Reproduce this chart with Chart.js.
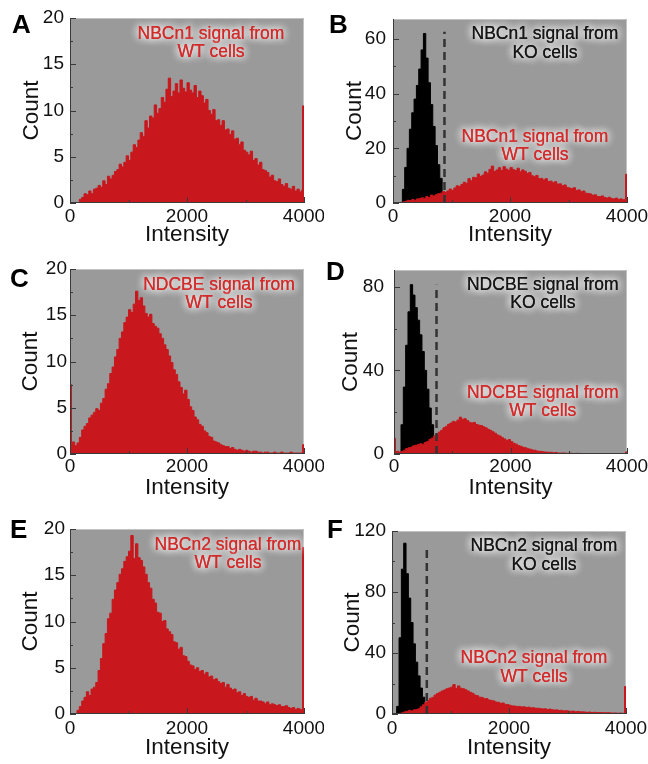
<!DOCTYPE html>
<html>
<head>
<meta charset="utf-8">
<title>Histogramas NBCn1 / NDCBE / NBCn2</title>
<script src="https://cdn.jsdelivr.net/npm/chart.js@4.4.1/dist/chart.umd.min.js"></script>
<style>
  body { margin: 0; background: #fff; }
  #figura { position: relative; width: 648px; height: 764px; overflow: hidden; }
  #figura canvas { position: absolute; }
</style>
</head>
<body>
<div id="figura">
  <canvas id="cA" width="324" height="255" style="left:0;top:0"></canvas>
  <canvas id="cB" width="324" height="255" style="left:324px;top:0"></canvas>
  <canvas id="cC" width="324" height="255" style="left:0;top:255px"></canvas>
  <canvas id="cD" width="324" height="255" style="left:324px;top:255px"></canvas>
  <canvas id="cE" width="324" height="254" style="left:0;top:510px"></canvas>
  <canvas id="cF" width="324" height="254" style="left:324px;top:510px"></canvas>
</div>
<script>
// Largura de cada classe do histograma (intensidade)
const BIN = 40;
// largura das barrinhas de under/overflow nas bordas
const EDGE = 25;

// Ticks dos eixos
const xTicks = [0, 2000, 4000];
const yTicks20 = [0, 5, 10, 15, 20];
const yTicksB = [0, 20, 40, 60];
const yTicksD = [0, 40, 80];
const yTicksF = [0, 40, 80, 120];

// Contagens das células WT (classes de 40 a partir de 0)
const wtNBCn1 = [0, 0, 0, 0, 0.4, 0.6, 1.0, 0.9, 1.3, 1.0,
  1.5, 1.6, 1.9, 1.7, 2.4, 2.0, 2.9, 2.6, 3.0, 3.4,
  3.6, 4.2, 3.9, 4.4, 5.1, 4.6, 5.5, 6.3, 6.0, 6.8,
  7.6, 7.2, 8.9, 8.1, 9.4, 9.2, 10.6, 9.7, 10.2, 11.4,
  10.9, 12.3, 13.5, 11.5, 12.1, 12.9, 11.9, 13.3, 12.4, 12.0,
  13.0, 12.2, 11.9, 12.7, 11.4, 12.1, 11.6, 10.8, 11.2, 10.0,
  9.6, 10.1, 8.9, 9.0, 8.4, 8.9, 7.9, 8.0, 7.4, 7.8,
  6.9, 7.0, 6.3, 6.6, 5.7, 5.5, 5.2, 5.6, 4.6, 4.8,
  4.1, 4.4, 3.6, 3.5, 3.3, 2.8, 3.0, 2.4, 2.3, 2.6,
  2.0, 1.8, 2.1, 1.6, 1.5, 1.8, 1.3, 1.5, 1.2, 1.4];
const wtNBCn1Alto = 10.5;

const wtNDCBE = [1.0, 1.3, 0.9, 1.2, 1.8, 2.6, 3.0, 3.3, 3.9, 4.2,
  4.5, 4.9, 4.7, 5.5, 6.0, 7.0, 7.6, 8.7, 9.4, 10.5,
  11.3, 12.5, 13.2, 14.2, 14.8, 15.6, 15.3, 16.2, 17.6, 16.6,
  16.9, 16.0, 15.2, 14.8, 15.1, 14.1, 13.8, 13.6, 13.0, 12.5,
  11.8, 11.3, 10.6, 9.9, 9.1, 8.6, 7.8, 7.2, 6.5, 6.9,
  5.9, 5.1, 4.7, 4.0, 3.7, 3.2, 3.0, 2.5, 2.3, 1.9,
  1.8, 1.4, 1.3, 1.2, 1.0, 0.9, 0.8, 0.8, 0.6, 0.7,
  0.5, 0.4, 0.5, 0.4, 0.3, 0.4, 0.3, 0.2, 0.3, 0.3,
  0.2, 0.2, 0.1, 0.2, 0.2, 0.1, 0.1, 0.2, 0.1, 0.1,
  0.2, 0.1, 0.1, 0.1, 0.2, 0.1, 0.1, 0.1, 0.1, 0.1];
const wtNDCBEBaixo = 7.5;
const wtNDCBEAlto = 1.0;

const wtNBCn2 = [0, 0, 0, 0.4, 0.8, 1.4, 1.8, 2.4, 2.0, 2.7,
  2.9, 3.4, 4.7, 6.0, 7.6, 8.7, 10.3, 10.9, 12.4, 13.4,
  14.2, 15.1, 15.7, 16.5, 17.0, 17.6, 19.3, 16.8, 18.4, 16.9,
  16.6, 15.9, 15.1, 14.2, 13.6, 12.4, 12.0, 11.0, 10.9, 10.0,
  10.1, 9.2, 8.9, 8.6, 7.8, 7.7, 7.0, 7.2, 6.3, 6.2,
  5.7, 5.3, 5.2, 4.8, 5.0, 4.6, 4.7, 4.3, 4.5, 4.0,
  4.1, 3.7, 3.8, 3.5, 3.3, 3.4, 2.9, 3.2, 2.8, 2.6,
  2.7, 2.3, 2.4, 2.0, 2.2, 1.9, 1.8, 1.9, 1.5, 1.7,
  1.4, 1.4, 1.3, 1.1, 1.3, 1.0, 1.1, 1.0, 0.9, 1.0,
  0.8, 0.8, 0.9, 0.7, 0.6, 0.7, 0.5, 0.6, 0.5, 0.4];
const wtNBCn2Alto = 18;

// Contagens das células KO
const koNBCn1 = [0, 0, 0, 0, 5, 13, 20, 27, 33, 38, 43, 49, 56, 62, 53, 44, 36, 28, 21, 14, 9, 4, 1, 0];
const koNDCBE = [0, 0, 0, 14, 32, 52, 68, 81, 76, 70, 64, 57, 49, 40, 31, 22, 14, 8, 3, 0];
const koNBCn2 = [0, 0, 5, 50, 95, 112, 92, 76, 60, 46, 34, 25, 17, 11, 5, 0];

// Linha tracejada de corte (intensidade, altura)
const corteNBCn1 = [880, 62.6];
const corteNDCBE = [730, 81];
const corteNBCn2 = [595, 110];

const VERMELHO = '#c8171d';
const CINZA = '#9a9a9a';
const fonte = '"Liberation Sans", Arial, Helvetica, sans-serif';

// Monta os pontos do histograma em degraus (borda esquerda de cada classe)
function pontosHist(contagens, baixo, alto) {
  var pts = [];
  if (baixo) {
    pts.push({x: 0, y: baixo});
    pts.push({x: EDGE, y: contagens[0]});
  } else {
    pts.push({x: 0, y: contagens[0]});
  }
  for (var i = 1; i < contagens.length; i++) {
    pts.push({x: i * BIN, y: contagens[i]});
  }
  var fim = contagens.length * BIN;
  if (alto) {
    pts.push({x: fim - EDGE, y: alto});
    pts.push({x: fim, y: alto});
  } else {
    pts.push({x: fim, y: contagens[contagens.length - 1]});
  }
  return pts;
}

// Fundo cinza, moldura, ticks para dentro, textos e a letra do painel
function pluginFigura(p) {
  return {
    id: 'figura' + p.letra,
    beforeDatasetsDraw(chart) {
      const a = chart.chartArea, ctx = chart.ctx;
      ctx.save();
      ctx.fillStyle = CINZA;
      ctx.fillRect(a.left, a.top, a.right - a.left, a.bottom - a.top);
      ctx.lineWidth = 1;
      ctx.strokeStyle = '#c2c2c2';
      ctx.beginPath();
      ctx.moveTo(a.left, a.top + 0.5);
      ctx.lineTo(a.right - 0.5, a.top + 0.5);
      ctx.lineTo(a.right - 0.5, a.bottom);
      ctx.stroke();
      ctx.restore();
    },
    afterDraw(chart) {
      const a = chart.chartArea, ctx = chart.ctx;
      const sx = chart.scales.x, sy = chart.scales.y;
      ctx.save();
      ctx.lineWidth = 1;
      ctx.strokeStyle = '#3a3a3a';
      ctx.beginPath();
      ctx.moveTo(a.left + 0.5, a.top);
      ctx.lineTo(a.left + 0.5, a.bottom - 0.5);
      ctx.lineTo(a.right, a.bottom - 0.5);

      // ticks do eixo y (principais e intermediários)
      for (var i = 0; i < p.yTicks.length; i++) {
        var yy = Math.round(sy.getPixelForValue(p.yTicks[i])) + 0.5;
        ctx.moveTo(a.left, yy); ctx.lineTo(a.left + 6, yy);
        if (i > 0) {
          var ym = Math.round(sy.getPixelForValue((p.yTicks[i] + p.yTicks[i - 1]) / 2)) + 0.5;
          ctx.moveTo(a.left, ym); ctx.lineTo(a.left + 3, ym);
        }
      }
      for (var j = 0; j < xTicks.length; j++) {
        var xx = Math.round(sx.getPixelForValue(xTicks[j])) + 0.5;
        ctx.moveTo(xx, a.bottom); ctx.lineTo(xx, a.bottom - 6);
        if (j > 0) {
          var xm = Math.round(sx.getPixelForValue((xTicks[j] + xTicks[j - 1]) / 2)) + 0.5;
          ctx.moveTo(xm, a.bottom); ctx.lineTo(xm, a.bottom - 3);
        }
      }
      ctx.stroke();

      // textos com brilho branco
      ctx.font = '17.5px ' + fonte;
      ctx.textAlign = 'center';
      ctx.textBaseline = 'middle';
      p.textos.forEach(function (t) {
        var tx = sx.getPixelForValue(t.x), ty = sy.getPixelForValue(t.y);
        ctx.shadowColor = 'rgba(255,255,255,0.95)';
        ctx.shadowBlur = 8;
        ctx.fillStyle = t.cor;
        ctx.fillText(t.texto, tx, ty);
        ctx.fillText(t.texto, tx, ty);
        ctx.fillText(t.texto, tx, ty);
      });

      ctx.shadowBlur = 0;
      ctx.font = 'bold 26px ' + fonte;
      ctx.textAlign = 'left';
      ctx.textBaseline = 'alphabetic';
      ctx.fillStyle = '#000';
      ctx.fillText(p.letra, p.letraPos[0], p.letraPos[1]);
      ctx.restore();
    }
  };
}

function criarPainel(p) {
  var datasets = [];
  if (p.corte) {
    datasets.push({
      data: [{x: p.corte[0], y: 0}, {x: p.corte[0], y: p.corte[1]}],
      borderColor: '#333', borderWidth: 2.5, borderDash: [8, 5],
      pointRadius: 0, fill: false, order: 0
    });
  }
  datasets.push({
    data: pontosHist(p.wt, p.wtBaixo, p.wtAlto),
    borderColor: VERMELHO, backgroundColor: VERMELHO, borderWidth: 1,
    pointRadius: 0, fill: 'origin', stepped: true, order: 1
  });
  if (p.ko) {
    datasets.push({
      data: pontosHist(p.ko),
      borderColor: '#000', backgroundColor: '#000', borderWidth: 1,
      pointRadius: 0, fill: 'origin', stepped: true, order: 2
    });
  }

  new Chart(document.getElementById(p.id), {
    type: 'line',
    data: { datasets: datasets },
    options: {
      responsive: false,
      animation: false,
      devicePixelRatio: 1,
      events: [],
      layout: { padding: { left: 0, top: p.area[2], right: 324 - p.area[1], bottom: 0 } },
      plugins: { legend: { display: false }, tooltip: { enabled: false } },
      scales: {
        x: {
          type: 'linear', min: 0, max: 4000,
          grid: { display: false, drawTicks: false },
          border: { display: false },
          afterBuildTicks: function (s) { s.ticks = xTicks.map(function (v) { return {value: v}; }); },
          afterFit: function (s) { s.height = p.altura - p.area[3]; s.paddingLeft = 0; s.paddingRight = 0; },
          ticks: {
            color: '#111', font: { family: fonte, size: 19 }, padding: p.xPad,
            maxRotation: 0, autoSkip: false,
            callback: function (v) { return String(v); }
          },
          title: { display: true, text: 'Intensity', color: '#111', font: { family: fonte, size: 22.5 }, padding: { top: 0, bottom: p.xTitPad } }
        },
        y: {
          type: 'linear', min: 0, max: p.yMax,
          grid: { display: false, drawTicks: false },
          border: { display: false },
          afterBuildTicks: function (s) { s.ticks = p.yTicks.map(function (v) { return {value: v}; }); },
          afterFit: function (s) { s.width = p.area[0]; s.paddingTop = 0; s.paddingBottom = 0; },
          ticks: {
            color: '#111', font: { family: fonte, size: 19 }, padding: p.yPad,
            callback: function (v) { return String(v); }
          },
          title: { display: true, text: 'Count', color: '#111', font: { family: fonte, size: 22.5 }, padding: { top: p.yTitPad, bottom: 0 } }
        }
      }
    },
    plugins: [pluginFigura(p)]
  });
}

const PRETO_TXT = '#151515';
const VERM_TXT = '#d02a2a';

criarPainel({ id: 'cA', letra: 'A', letraPos: [12, 33], altura: 255, area: [70, 304, 18, 203],
  yMax: 20, yTicks: yTicks20, xPad: 2, xTitPad: 7, yPad: 6, yTitPad: 18,
  wt: wtNBCn1, wtAlto: wtNBCn1Alto,
  textos: [{texto: 'NBCn1 signal from', x: 2410, y: 18.3, cor: VERM_TXT},
           {texto: 'WT cells', x: 2410, y: 16.3, cor: VERM_TXT}] });

criarPainel({ id: 'cB', letra: 'B', letraPos: [5, 33], altura: 255, area: [69, 303, 19, 203],
  yMax: 67.3, yTicks: yTicksB, xPad: 2, xTitPad: 7, yPad: 7, yTitPad: 17,
  wt: wtNBCn1, wtAlto: wtNBCn1Alto, ko: koNBCn1, corte: corteNBCn1,
  textos: [{texto: 'NBCn1 signal from', x: 2598, y: 61.8, cor: PRETO_TXT},
           {texto: 'KO cells', x: 2598, y: 54.9, cor: PRETO_TXT},
           {texto: 'NBCn1 signal from', x: 2427, y: 24.1, cor: VERM_TXT},
           {texto: 'WT cells', x: 2427, y: 17.6, cor: VERM_TXT}] });

criarPainel({ id: 'cC', letra: 'C', letraPos: [10, 32], altura: 255, area: [70, 304, 14, 199],
  yMax: 20, yTicks: yTicks20, xPad: 1, xTitPad: 9, yPad: 3, yTitPad: 17,
  wt: wtNDCBE, wtBaixo: wtNDCBEBaixo, wtAlto: wtNDCBEAlto,
  textos: [{texto: 'NDCBE signal from', x: 2547, y: 18.3, cor: VERM_TXT},
           {texto: 'WT cells', x: 2547, y: 16.3, cor: VERM_TXT}] });

criarPainel({ id: 'cD', letra: 'D', letraPos: [2, 25], altura: 255, area: [70, 303, 15, 199],
  yMax: 88, yTicks: yTicksD, xPad: 1, xTitPad: 9, yPad: 10, yTitPad: 13,
  wt: wtNDCBE, wtBaixo: wtNDCBEBaixo, wtAlto: wtNDCBEAlto, ko: koNDCBE, corte: corteNDCBE,
  textos: [{texto: 'NDCBE signal from', x: 2555, y: 80.9, cor: PRETO_TXT},
           {texto: 'KO cells', x: 2555, y: 72.2, cor: PRETO_TXT},
           {texto: 'NDCBE signal from', x: 2555, y: 29.2, cor: VERM_TXT},
           {texto: 'WT cells', x: 2555, y: 20.6, cor: VERM_TXT}] });

criarPainel({ id: 'cE', letra: 'E', letraPos: [10, 28], altura: 254, area: [70, 304, 19, 204],
  yMax: 20, yTicks: yTicks20, xPad: 3, xTitPad: 3, yPad: 5, yTitPad: 17,
  wt: wtNBCn2, wtAlto: wtNBCn2Alto,
  textos: [{texto: 'NBCn2 signal from', x: 2700, y: 18.3, cor: VERM_TXT},
           {texto: 'WT cells', x: 2700, y: 16.3, cor: VERM_TXT}] });

criarPainel({ id: 'cF', letra: 'F', letraPos: [3, 28], altura: 254, area: [68, 302, 21, 204],
  yMax: 120, yTicks: yTicksF, xPad: 3, xTitPad: 3, yPad: 6, yTitPad: 15,
  wt: wtNBCn2, wtAlto: wtNBCn2Alto, ko: koNBCn2, corte: corteNBCn2,
  textos: [{texto: 'NBCn2 signal from', x: 2598, y: 110.2, cor: PRETO_TXT},
           {texto: 'KO cells', x: 2598, y: 97.7, cor: PRETO_TXT},
           {texto: 'NBCn2 signal from', x: 2427, y: 36.7, cor: VERM_TXT},
           {texto: 'WT cells', x: 2427, y: 24.3, cor: VERM_TXT}] });
</script>
</body>
</html>
